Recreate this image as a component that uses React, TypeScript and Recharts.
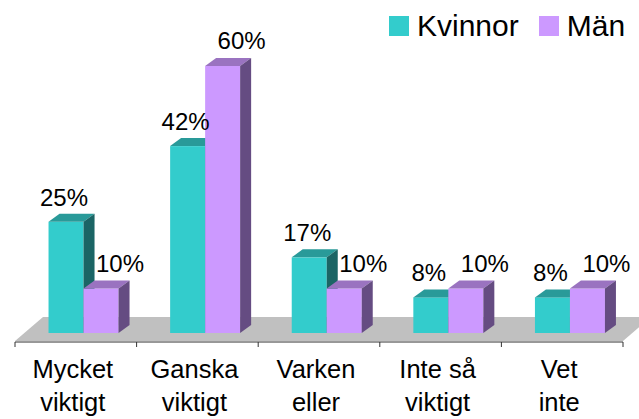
import React from 'react'
import * as RC from 'recharts'
import { BarChart, Bar, XAxis, YAxis, LabelList, Legend } from 'recharts'

const categories = ['Mycket\nviktigt', 'Ganska\nviktigt', 'Varken\neller', 'Inte så\nviktigt', 'Vet\ninte']
const kvinnor = [25, 42, 17, 8, 8]
const man = [10, 60, 10, 10, 10]
const seriesNames = ['Kvinnor', 'Män']

const data = categories.map((cat, i) => ({ cat, kvinnor: kvinnor[i], man: man[i] }))

const W = 639
const H = 419
const MARGIN = { top: 66, right: 16, bottom: 0, left: 15 }
const XAXIS_H = 86
const FONT = '"Liberation Sans", Arial, Helvetica, sans-serif'

// 3d look
const SHIFT = 8
const DEPTH_X = 11
const DEPTH_Y = 8

const TEAL = { front: '#33CCCC', top: '#299A99', side: '#1B6565' }
const LILAC = { front: '#CC99FF', top: '#9A73C0', side: '#654C82' }

function makeBarShape(c: { front: string; top: string; side: string }) {
  return (props: any) => {
    const { x, y, width, height } = props
    if (width == null || height == null) return <g />
    const x0 = x + SHIFT
    const x1 = x0 + width
    const yb = y + height
    return (
      <g>
        <rect x={x0} y={y} width={width} height={height} fill={c.front} />
        <polygon
          points={`${x0},${y} ${x0 + DEPTH_X},${y - DEPTH_Y} ${x1 + DEPTH_X},${y - DEPTH_Y} ${x1},${y}`}
          fill={c.top}
        />
        <polygon
          points={`${x1},${y} ${x1 + DEPTH_X},${y - DEPTH_Y} ${x1 + DEPTH_X},${yb - DEPTH_Y} ${x1},${yb}`}
          fill={c.side}
        />
      </g>
    )
  }
}

function makeLabel(dx: number, dy: number) {
  return (props: any) => {
    const { x, y, width, value } = props
    return (
      <text
        x={x + SHIFT + width / 2 + dx}
        y={y + dy}
        textAnchor="middle"
        fontSize={24}
        fontFamily={FONT}
        fill="#000"
      >
        {value}%
      </text>
    )
  }
}

function Floor() {
  const hook = (RC as any).usePlotArea
  const area = hook ? hook() : null
  const px = area ? area.x : MARGIN.left
  const pw = area ? area.width : W - MARGIN.left - MARGIN.right
  const base = area ? area.y + area.height : H - XAXIS_H
  const ticks = categories.map((_, i) => px + (i * pw) / categories.length)
  ticks.push(px + pw)
  return (
    <g>
      <polygon
        points={`${px},${base + 8} ${px + pw},${base + 8} ${px + pw + 28},${base - 16} ${px + 28},${base - 16}`}
        fill="#C0C0C0"
      />
      <line x1={px} y1={base + 9} x2={px + pw} y2={base + 9} stroke="#333" strokeWidth={1} />
      {ticks.map((t, i) => (
        <line key={i} x1={t} y1={base + 9} x2={t} y2={base + 14} stroke="#333" strokeWidth={1} />
      ))}
    </g>
  )
}

function CatTick(props: any) {
  const { x, y, payload } = props
  const lines = String(payload.value).split('\n')
  return (
    <g>
      {lines.map((l, i) => (
        <text
          key={i}
          x={x - 3}
          y={y + 45 + i * 33}
          textAnchor="middle"
          fontSize={25.5}
          fontFamily={FONT}
          fill="#000"
        >
          {l}
        </text>
      ))}
    </g>
  )
}

function LegendBox() {
  const items = [
    { name: seriesNames[0], color: TEAL.front },
    { name: seriesNames[1], color: LILAC.front },
  ]
  return (
    <div style={{ display: 'flex', alignItems: 'center', fontFamily: FONT, fontSize: 30, lineHeight: '36px' }}>
      {items.map((it, i) => (
        <div key={i} style={{ display: 'flex', alignItems: 'center', marginRight: i === 0 ? 20 : 0 }}>
          <span style={{ width: 20, height: 20, background: it.color, display: 'inline-block', marginRight: 8 }} />
          <span style={{ color: '#000' }}>{it.name}</span>
        </div>
      ))}
    </div>
  )
}

export default function App() {
  return (
    <div style={{ position: 'absolute', left: 0, top: 0, width: W, height: H, background: '#fff' }}>
      <BarChart width={W} height={H} data={data} margin={MARGIN} barCategoryGap="21%" barGap={0}>
        <Floor />
        <XAxis
          dataKey="cat"
          height={XAXIS_H}
          axisLine={false}
          tickLine={false}
          tickSize={0}
          tickMargin={0}
          interval={0}
          tick={<CatTick />}
        />
        <YAxis hide domain={[0, 60]} />
        <Legend
          layout="horizontal"
          verticalAlign="middle"
          align="center"
          wrapperStyle={{ top: 8, left: 389, width: 'auto' }}
          content={() => <LegendBox />}
        />
        <Bar dataKey="kvinnor" name={seriesNames[0]} fill={TEAL.front} shape={makeBarShape(TEAL)} isAnimationActive={false}>
          <LabelList dataKey="kvinnor" content={makeLabel(-2, -16)} />
        </Bar>
        <Bar dataKey="man" name={seriesNames[1]} fill={LILAC.front} shape={makeBarShape(LILAC)} isAnimationActive={false}>
          <LabelList dataKey="man" content={makeLabel(19, -17)} />
        </Bar>
      </BarChart>
    </div>
  )
}
